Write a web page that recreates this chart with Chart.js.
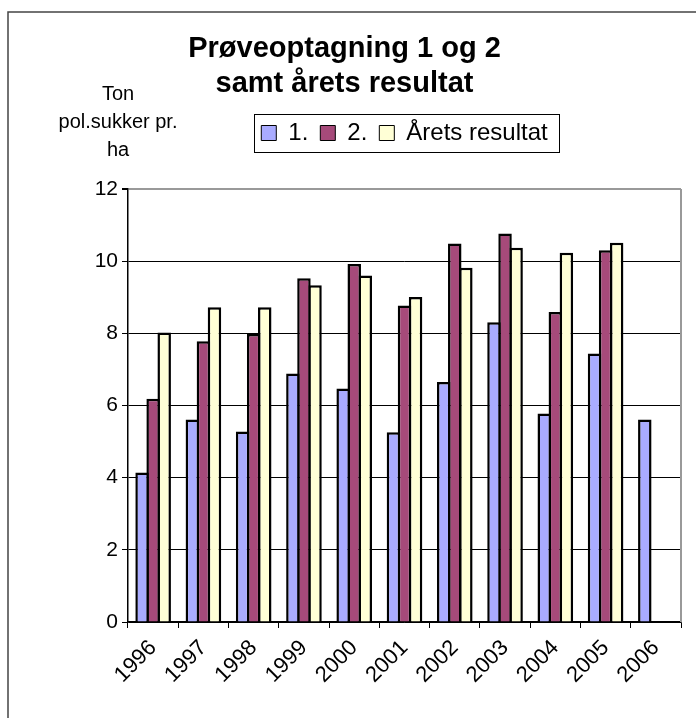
<!DOCTYPE html>
<html>
<head>
<meta charset="utf-8">
<script src="https://cdn.jsdelivr.net/npm/chart.js@4"></script>
<style>
  html, body { margin: 0; padding: 0; background: #fff; }
  #wrap { width: 696px; height: 718px; }
</style>
</head>
<body>
<div id="wrap"><canvas id="bars" width="696" height="718"></canvas></div>
<script>
// data
const years = ['1996', '1997', '1998', '1999', '2000', '2001', '2002', '2003', '2004', '2005', '2006'];
const proeve1 = [4.14, 5.61, 5.28, 6.89, 6.47, 5.26, 6.65, 8.31, 5.78, 7.44, 5.61];
const proeve2 = [6.19, 7.78, 7.98, 9.53, 9.92, 8.77, 10.49, 10.77, 8.59, 10.30, null];
const aaretsResultat = [8.02, 8.72, 8.72, 9.33, 9.60, 9.01, 9.82, 10.37, 10.23, 10.51, null];
const yTicks = [0, 2, 4, 6, 8, 10, 12];
const titleLines = ['Prøveoptagning 1 og 2', 'samt årets resultat'];
const yTitleLines = ['Ton', 'pol.sukker pr.', 'ha'];
// data

const FONT = '"Liberation Sans", Arial, sans-serif';

// frame + legend box + y title
const extras = {
    id: 'extras',
    afterDraw(chart) {
        const ctx = chart.ctx;
        const area = chart.chartArea;
        ctx.save();

        // outer frame
        ctx.strokeStyle = '#444';
        ctx.lineWidth = 1.5;
        ctx.beginPath();
        ctx.moveTo(8, 730);
        ctx.lineTo(8, 12);
        ctx.lineTo(710, 12);
        ctx.stroke();

        // right plot border
        ctx.strokeStyle = '#999';
        ctx.lineWidth = 2;
        ctx.beginPath();
        ctx.moveTo(area.right, area.top);
        ctx.lineTo(area.right, area.bottom);
        ctx.stroke();

        // legend border
        const boxes = chart.legend.legendHitBoxes;
        if (boxes.length) {
            let l = Infinity, t = Infinity, r = -Infinity, b = -Infinity;
            for (const h of boxes) {
                l = Math.min(l, h.left); t = Math.min(t, h.top);
                r = Math.max(r, h.left + h.width); b = Math.max(b, h.top + h.height);
            }
            const cy = (t + b) / 2;
            ctx.strokeStyle = '#000';
            ctx.lineWidth = 1;
            ctx.strokeRect(Math.round(l - 7) + 0.5, Math.round(cy - 19) + 0.5, Math.round(r - l + 19), 38);
        }

        // y axis title
        ctx.fillStyle = '#000';
        ctx.font = '20px ' + FONT;
        ctx.textAlign = 'center';
        ctx.textBaseline = 'middle';
        yTitleLines.forEach((line, i) => {
            ctx.fillText(line, area.left - 10, area.top - 95 + i * 28);
        });
        ctx.restore();
    }
};

const barsCanvas = document.getElementById('bars');

new Chart(barsCanvas, {
    type: 'bar',
    data: {
        labels: years,
        datasets: [
            { label: '1.', data: proeve1, backgroundColor: '#a9abff' },
            { label: '2.', data: proeve2, backgroundColor: '#a64a7a' },
            { label: 'Årets resultat', data: aaretsResultat, backgroundColor: '#ffffd6' }
        ].map(ds => Object.assign(ds, {
            borderColor: '#000',
            borderWidth: 2.5,
            borderSkipped: 'bottom',
            categoryPercentage: 0.66,
            barPercentage: 1.22
        }))
    },
    options: {
        responsive: false,
        animation: false,
        layout: { padding: { top: 12, left: 8, right: 15, bottom: 0 } },
        plugins: {
            tooltip: { enabled: false },
            title: {
                display: true,
                text: titleLines,
                color: '#000',
                font: { family: FONT, size: 29, weight: 'bold', lineHeight: 1.2 },
                padding: { top: 19.6, bottom: 7.8 }
            },
            // empty spacer between legend and plot
            subtitle: {
                display: true,
                text: '',
                weight: 500,
                font: { size: 10, lineHeight: 1 },
                padding: { top: 0, bottom: 24 }
            },
            legend: {
                position: 'top',
                align: 'center',
                fullSize: false,
                labels: {
                    color: '#000',
                    font: { family: FONT, size: 24 },
                    boxWidth: 15,
                    boxHeight: 15,
                    padding: 12,
                    generateLabels(chart) {
                        const items = Chart.defaults.plugins.legend.labels.generateLabels(chart);
                        items.forEach(it => { it.lineWidth = 1; });
                        return items;
                    }
                }
            }
        },
        scales: {
            x: {
                offset: true,
                grid: {
                    offset: true,
                    drawOnChartArea: false,
                    drawTicks: true,
                    tickLength: 6,
                    tickColor: '#000'
                },
                border: { color: '#000', width: 1.5 },
                ticks: {
                    color: '#000',
                    font: { family: FONT, size: 22 },
                    minRotation: 45,
                    maxRotation: 45,
                    autoSkip: false,
                    padding: 7
                },
                afterFit(scale) { scale.height = 96; }
            },
            y: {
                min: 0,
                max: 12,
                afterBuildTicks(scale) { scale.ticks = yTicks.map(v => ({ value: v })); },
                grid: {
                    color: ctx => (ctx.tick && ctx.tick.value === 12 ? '#999' : '#000'),
                    lineWidth: ctx => (ctx.tick && ctx.tick.value === 12 ? 2 : 1),
                    tickColor: '#000',
                    tickLength: 6
                },
                border: { color: '#000', width: 1.5 },
                ticks: {
                    color: '#000',
                    font: { family: FONT, size: 21 },
                    padding: 4
                },
                afterFit(scale) { scale.width = 120; }
            }
        }
    },
    plugins: [extras]
});
</script>
</body>
</html>
